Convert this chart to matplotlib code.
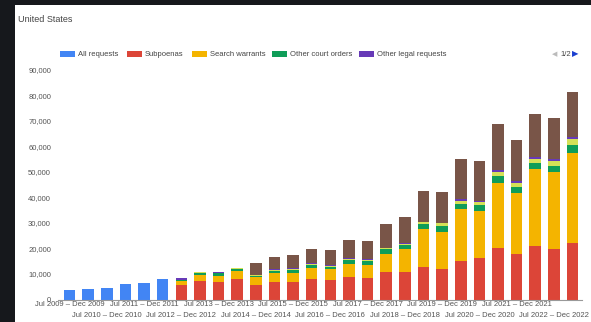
import matplotlib
matplotlib.use("Agg")
import matplotlib.pyplot as plt
from matplotlib.patches import Rectangle
import numpy as np

# Half-year periods, Jul 2009 -> Jan 2023
periods = []
for yr in range(2009, 2024):
    periods.append(f"Jan {yr} – Jun {yr}")
    periods.append(f"Jul {yr} – Dec {yr}")
periods = periods[1:29]

# before Jul 2012 only the total is reported
all_requests = [3580, 4290, 4600, 5950, 6320, 7970] + [0] * 22

subpoenas = [0] * 6 + [5500, 7240, 6730, 7900, 5550, 6730, 6800, 7900, 7630, 8930, 8300,
                       10880, 10880, 12600, 11810, 15190, 16110, 20280, 17690, 20940, 19650, 22230]
search_warrants = [0] * 6 + [1840, 2350, 2590, 3130, 3130, 3520, 3700, 4300, 4180, 4960, 5320,
                             6810, 8770, 14870, 14730, 20110, 18650, 25200, 23870, 30020, 30370, 35220]
other_court_orders = [0] * 6 + [150, 900, 900, 950, 700, 1000, 1100, 1300, 1100, 1600, 1500,
                                1900, 1700, 2080, 2230, 2200, 2110, 2860, 2590, 2350, 2230, 2900]
emergency = [0] * 6 + [0, 150, 150, 200, 250, 300, 350, 350, 300, 350, 350,
                       400, 500, 650, 1050, 1170, 1100, 1680, 1570, 1800, 1960, 2350]
other_legal = [0] * 6 + [800, 200, 200, 250, 150, 200, 200, 250, 250, 250, 250,
                         250, 300, 300, 300, 500, 500, 600, 800, 800, 650, 1000]
preservation = [0] * 6 + [0, 0, 0, 0, 4400, 5000, 5270, 5800, 5800, 7310, 7060,
                          9310, 10020, 11970, 11950, 15700, 15860, 18070, 15910, 16570, 16060, 17400]

series = [
    ("Subpoenas", subpoenas, "#dc4538"),
    ("Search warrants", search_warrants, "#f4b400"),
    ("Other court orders", other_court_orders, "#0f9d58"),
    ("Emergency disclosure requests", emergency, "#d4e157"),
    ("Other legal requests", other_legal, "#673ab7"),
    ("Preservation requests", preservation, "#795548"),
]
legend_items = [("All requests", "#4285f4"), ("Subpoenas", "#dc4538"),
                ("Search warrants", "#f4b400"), ("Other court orders", "#0f9d58"),
                ("Other legal requests", "#673ab7")]

plt.rcParams['font.family'] = ['Liberation Sans', 'DejaVu Sans']

fig = plt.figure(figsize=(5.91, 3.22), dpi=100)
fig.patch.set_facecolor("#16181c")
fig.patches.append(Rectangle((15 / 591, 0), 1, 317 / 322, transform=fig.transFigure,
                             facecolor="white", edgecolor="none", zorder=-10))

ax = fig.add_axes([57.95 / 591, 22.5 / 322, 523.9 / 591, 230 / 322])
ax.set_facecolor("white")
x = np.arange(len(periods))
w = 0.62
ax.bar(x, all_requests, width=w, color="#4285f4")
bottom = np.zeros(len(periods))
for name, vals, col in series:
    ax.bar(x, vals, width=w, bottom=bottom, color=col, label=name)
    bottom += np.array(vals)

ax.set_xlim(-0.62, 27.5)
ax.set_ylim(0, 90000)
ax.set_yticks(range(0, 90001, 10000))
ax.set_yticklabels([f"{v:,}" for v in range(0, 90001, 10000)])
ax.tick_params(axis="y", length=0, labelsize=5.5, labelcolor="#555555", pad=5)
ax.set_xticks([])
for s in ["top", "right", "left"]:
    ax.spines[s].set_visible(False)
ax.spines["bottom"].set_color("#999999")
ax.spines["bottom"].set_linewidth(0.8)

# staggered labels on every other bar
for i in range(0, len(periods), 2):
    row = (i // 2) % 2
    ax.annotate(periods[i], xy=(i, 0), xycoords="data", xytext=(0, -3.8 - 8.0 * row),
                textcoords="offset points", ha="center", va="center", fontsize=5.5,
                color="#555555", annotation_clip=False)

fig.text(18 / 591, 1 - 19 / 322, "United States", fontsize=6.5, color="#444444", va="center")

# legend
lx = [60, 127, 192, 272, 359]
for (name, col), px in zip(legend_items, lx):
    fig.patches.append(Rectangle((px / 591, 1 - 57 / 322), 15 / 591, 6.5 / 322,
                                 transform=fig.transFigure, facecolor=col, edgecolor="none"))
    fig.text((px + 18) / 591, 1 - 54 / 322, name, fontsize=5.5, color="#444444", va="center")
fig.text(552 / 591, 1 - 54 / 322, "◀", fontsize=5, color="#bbbbbb", va="center",
         family=["DejaVu Sans"])
fig.text(560 / 591, 1 - 54 / 322, "1/2", fontsize=5.5, color="#444444", va="center")
fig.text(572 / 591, 1 - 54 / 322, "▶", fontsize=6, color="#1a3fd0", va="center",
         family=["DejaVu Sans"])

fig.savefig("out.png", dpi=100, facecolor=fig.get_facecolor())
